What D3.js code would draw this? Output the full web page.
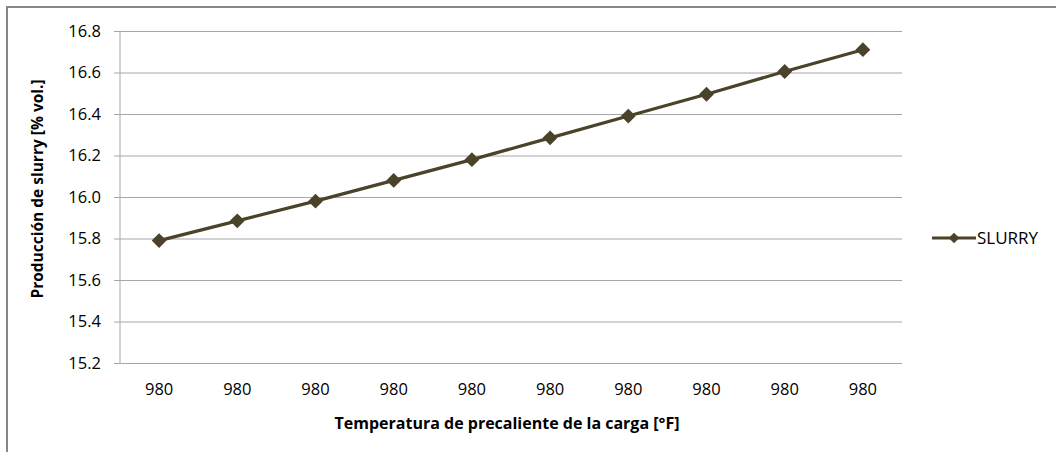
<!DOCTYPE html>
<html>
<head>
<meta charset="utf-8">
<script src="https://cdn.jsdelivr.net/npm/d3@7"></script>
<style>
  html, body { margin: 0; padding: 0; background: #fff; }
  svg { display: block; font-family: "Open Sans", "Noto Sans", sans-serif; }
</style>
</head>
<body>
<svg id="chart" width="1056" height="452"></svg>
<script>
// Preheat temperature categories (all labelled 980 °F) and slurry yield, % vol.
const categories = ["980", "980", "980", "980", "980", "980", "980", "980", "980", "980"];
const slurry = [15.79, 15.885, 15.98, 16.08, 16.18, 16.285, 16.39, 16.495, 16.605, 16.71];
const yTicks = [15.2, 15.4, 15.6, 15.8, 16.0, 16.2, 16.4, 16.6, 16.8];
const seriesName = "SLURRY";

const svg = d3.select("#chart");
const W = 1056, H = 452;
const plot = { left: 120, right: 902, top: 31, bottom: 363 };
const lineColor = "#4b4329";
const gridColor = "#a6a6a6";
const fontFamily = "'Open Sans', 'Noto Sans', sans-serif";

// Outer chart frame
svg.append("rect")
  .attr("x", 7).attr("y", 7)
  .attr("width", W + 10).attr("height", H + 10)
  .attr("fill", "none").attr("stroke", "#878787").attr("stroke-width", 2);

const x = d3.scaleBand()
  .domain(d3.range(categories.length))
  .range([plot.left, plot.right])
  .paddingInner(0).paddingOuter(0);

const y = d3.scaleLinear()
  .domain([15.2, 16.8])
  .range([plot.bottom, plot.top]);

// Horizontal gridlines with short ticks left of the axis
const yAxis = d3.axisLeft(y)
  .tickValues(yTicks)
  .tickFormat(d3.format(".1f"))
  .tickSize(-(plot.right - plot.left))
  .tickPadding(14);

const gy = svg.append("g")
  .attr("transform", `translate(${plot.left},0)`)
  .call(yAxis)
  .attr("font-family", fontFamily);
gy.select(".domain").remove();
gy.selectAll(".tick line")
  .attr("x1", -6)
  .attr("stroke", gridColor).attr("stroke-width", 1);
gy.selectAll(".tick text")
  .attr("fill", "#000").attr("font-size", 16.5)
  .attr("x", -19);

// Vertical axis line
svg.append("line")
  .attr("x1", plot.left).attr("x2", plot.left)
  .attr("y1", plot.top).attr("y2", plot.bottom)
  .attr("stroke", gridColor).attr("stroke-width", 1);

// Category axis labels
const xAxis = d3.axisBottom(x)
  .tickFormat(i => categories[i])
  .tickSize(0)
  .tickPadding(20);
const gx = svg.append("g")
  .attr("transform", `translate(0,${plot.bottom})`)
  .call(xAxis)
  .attr("font-family", fontFamily);
gx.select(".domain").remove();
gx.selectAll(".tick text").attr("fill", "#000").attr("font-size", 16.5);

// Axis titles
svg.append("text")
  .attr("x", 507)
  .attr("y", 429)
  .attr("text-anchor", "middle")
  .attr("font-weight", "bold")
  .attr("font-size", 16)
  .text("Temperatura de precaliente de la carga [°F]");

svg.append("text")
  .attr("transform", `translate(43,${(plot.top + plot.bottom) / 2 - 8}) rotate(-90)`)
  .attr("text-anchor", "middle")
  .attr("font-weight", "bold")
  .attr("font-size", 15.5)
  .text("Producción de slurry [% vol.]");

// Series line
const cx = i => x(i) + x.bandwidth() / 2;
const line = d3.line()
  .x((d, i) => cx(i))
  .y(d => y(d));

svg.append("path")
  .datum(slurry)
  .attr("fill", "none")
  .attr("stroke", lineColor)
  .attr("stroke-width", 3.2)
  .attr("stroke-linejoin", "round")
  .attr("d", line);

// Diamond markers
svg.selectAll(".marker")
  .data(slurry)
  .join("path")
  .attr("class", "marker")
  .attr("transform", (d, i) => `translate(${cx(i)},${y(d)}) rotate(45)`)
  .attr("d", d3.symbol().type(d3.symbolSquare).size(110))
  .attr("fill", lineColor);

// Legend
const lg = svg.append("g").attr("transform", "translate(932,238)");
lg.append("line")
  .attr("x1", 0).attr("x2", 44)
  .attr("stroke", lineColor).attr("stroke-width", 3.2);
lg.append("path")
  .attr("transform", "translate(22,0) rotate(45)")
  .attr("d", d3.symbol().type(d3.symbolSquare).size(55))
  .attr("fill", lineColor);
lg.append("text")
  .attr("x", 45).attr("y", 0)
  .attr("dy", "0.36em")
  .attr("font-size", 17)
  .attr("fill", "#000")
  .text(seriesName);
</script>
</body>
</html>
